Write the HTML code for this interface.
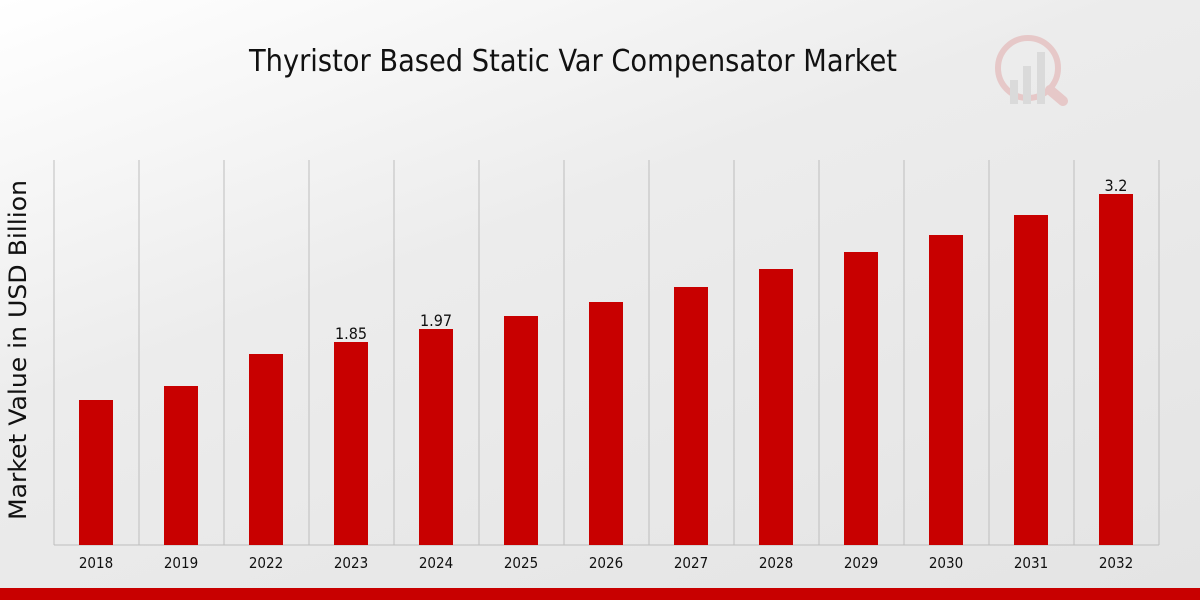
<!DOCTYPE html>
<html><head><style>
html,body{margin:0;padding:0}
body{width:1200px;height:600px;overflow:hidden;background:linear-gradient(160deg,#ffffff 0%,#ececec 40%,#e4e4e4 100%);font-family:"DejaVu Sans","Liberation Sans",sans-serif}
</style></head><body>
<svg width="1200" height="600" xmlns="http://www.w3.org/2000/svg" style="position:absolute;left:0;top:0">
<text x="573" y="71" text-anchor="middle" font-family="DejaVu Sans Condensed, DejaVu Sans, sans-serif" font-size="30" textLength="648" lengthAdjust="spacingAndGlyphs" fill="#111">Thyristor Based Static Var Compensator Market</text>
<g opacity="0.35">
<circle cx="1028" cy="68" r="30" fill="none" stroke="#d88" stroke-width="6"/>
<rect x="1010" y="80" width="8" height="24" fill="#bbb"/><rect x="1023" y="66" width="8" height="38" fill="#bbb"/><rect x="1037" y="52" width="8" height="52" fill="#bbb"/>
<line x1="1050" y1="90" x2="1063" y2="101" stroke="#d88" stroke-width="10" stroke-linecap="round"/>
</g>
<g stroke="#bdbdbd" stroke-width="1">
<line x1="54" y1="160" x2="54" y2="545"/><line x1="139" y1="160" x2="139" y2="545"/><line x1="224" y1="160" x2="224" y2="545"/><line x1="309" y1="160" x2="309" y2="545"/><line x1="394" y1="160" x2="394" y2="545"/><line x1="479" y1="160" x2="479" y2="545"/><line x1="564" y1="160" x2="564" y2="545"/><line x1="649" y1="160" x2="649" y2="545"/><line x1="734" y1="160" x2="734" y2="545"/><line x1="819" y1="160" x2="819" y2="545"/><line x1="904" y1="160" x2="904" y2="545"/><line x1="989" y1="160" x2="989" y2="545"/><line x1="1074" y1="160" x2="1074" y2="545"/><line x1="1159" y1="160" x2="1159" y2="545"/>
<line x1="54" y1="545" x2="1159" y2="545"/>
</g>
<g fill="#c80000">
<rect x="79" y="400" width="34" height="145"/>
<rect x="164" y="386" width="34" height="159"/>
<rect x="249" y="354" width="34" height="191"/>
<rect x="334" y="342" width="34" height="203"/>
<rect x="419" y="329" width="34" height="216"/>
<rect x="504" y="316" width="34" height="229"/>
<rect x="589" y="302" width="34" height="243"/>
<rect x="674" y="287" width="34" height="258"/>
<rect x="759" y="269" width="34" height="276"/>
<rect x="844" y="252" width="34" height="293"/>
<rect x="929" y="235" width="34" height="310"/>
<rect x="1014" y="215" width="34" height="330"/>
<rect x="1099" y="194" width="34" height="351"/>
</g>
<g font-family="DejaVu Sans Condensed, DejaVu Sans, sans-serif" font-size="16" fill="#111" text-anchor="middle">
<text x="351" y="339">1.85</text><text x="436" y="326">1.97</text><text x="1116" y="191">3.2</text>
</g>
<g font-family="DejaVu Sans Condensed, DejaVu Sans, sans-serif" font-size="15" fill="#111" text-anchor="middle">
<text x="96" y="568">2018</text><text x="181" y="568">2019</text><text x="266" y="568">2022</text><text x="351" y="568">2023</text><text x="436" y="568">2024</text><text x="521" y="568">2025</text><text x="606" y="568">2026</text><text x="691" y="568">2027</text><text x="776" y="568">2028</text><text x="861" y="568">2029</text><text x="946" y="568">2030</text><text x="1031" y="568">2031</text><text x="1116" y="568">2032</text>
</g>
<text transform="translate(26,350) rotate(-90)" text-anchor="middle" font-family="DejaVu Sans, sans-serif" font-size="24" textLength="340" lengthAdjust="spacingAndGlyphs" fill="#111">Market Value in USD Billion</text>
<rect x="0" y="588" width="1200" height="12" fill="#c80000"/>
</svg>
</body></html>
